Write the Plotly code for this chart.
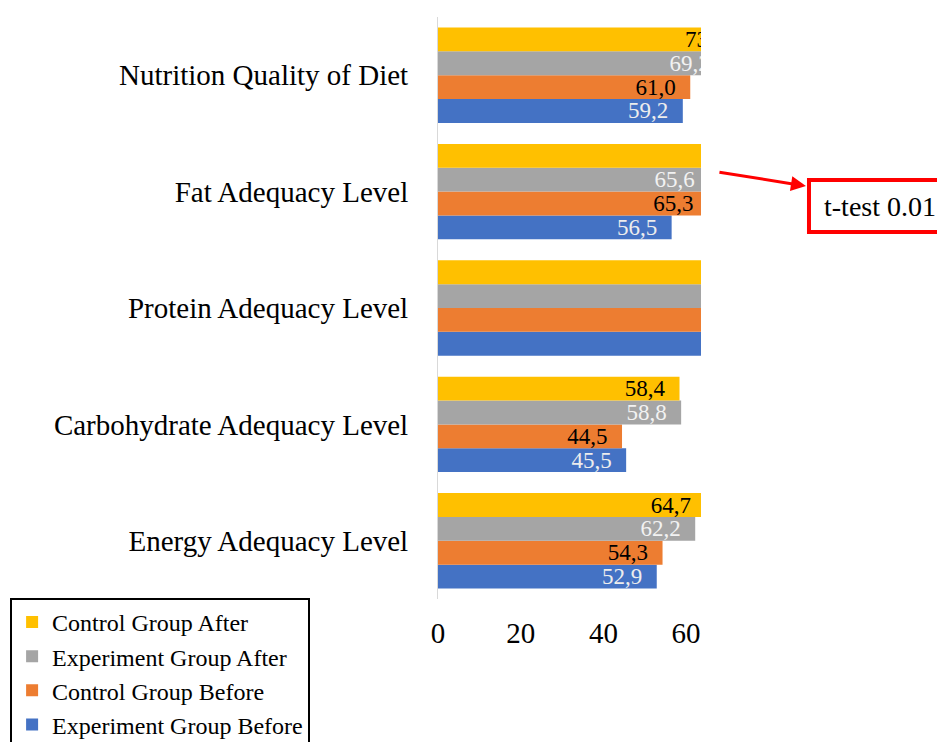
import plotly.graph_objects as go

categories = ["Energy Adequacy Level", "Carbohydrate Adequacy Level", "Protein Adequacy Level",
              "Fat Adequacy Level", "Nutrition Quality of Diet"]
exp_before = [52.9, 45.5, 78.0, 56.5, 59.2]
ctrl_before = [54.3, 44.5, 79.0, 65.3, 61.0]
exp_after = [62.2, 58.8, 80.0, 65.6, 69.2]
ctrl_after = [64.7, 58.4, 81.0, 78.0, 73.0]

series = [
    ("Experiment Group Before", exp_before, "#4472C4", "#EDEDED"),
    ("Control Group Before", ctrl_before, "#ED7D31", "#000000"),
    ("Experiment Group After", exp_after, "#A5A5A5", "#F2F2F2"),
    ("Control Group After", ctrl_after, "#FFC000", "#000000"),
]

def fmt(v):
    return f"{v:.1f}".replace(".", ",") + "\u00a0\u00a0"

fig = go.Figure()
for name, vals, color, tcolor in series:
    fig.add_trace(go.Bar(
        y=categories, x=vals, orientation="h", name=name, legendgroup=name,
        marker=dict(color=color, line=dict(width=0)),
        text=[fmt(v) for v in vals], textposition="inside", insidetextanchor="end",
        textangle=0, constraintext="none",
        textfont=dict(family="Liberation Serif", size=23, color=tcolor),
        cliponaxis=True,
    ))

fig.update_layout(
    width=945, height=742,
    margin=dict(l=430, r=252, t=9, b=151, autoexpand=False),
    paper_bgcolor="white", plot_bgcolor="white",
    barmode="group", bargap=0.18, bargroupgap=0,
    font=dict(family="Liberation Serif", size=29, color="#000000"),
    showlegend=True,
    legend=dict(
        x=-1.627, y=0.002, xanchor="left", yanchor="top",
        traceorder="reversed", bordercolor="#000000", borderwidth=2,
        tracegroupgap=5,
        bgcolor="white", font=dict(family="Liberation Serif", size=24, color="#000000"),
        itemwidth=30,
    ),
    xaxis=dict(range=[0, 63.6], tickvals=[0, 20, 40, 60], showgrid=False, zeroline=False,
               showline=False, ticks="", tickfont=dict(size=29), ticklabelstandoff=14),
    yaxis=dict(showline=True, linecolor="#D9D9D9", linewidth=1, ticks="", showgrid=False,
               tickfont=dict(size=29), ticklabelstandoff=23),
    shapes=[
        dict(type="rect", xref="paper", yref="paper", x0=1.4106, x1=2.2, y0=0.6306, y1=0.7199,
             line=dict(color="#FF0000", width=4), fillcolor="white", layer="above"),
    ],
    annotations=[
        dict(xref="paper", yref="paper", x=1.399, y=0.7096, ax=-88, ay=-14,
             showarrow=True, arrowhead=2, arrowsize=1, arrowwidth=3, arrowcolor="#FF0000", text=""),
        dict(xref="paper", yref="paper", x=1.460, y=0.675, xanchor="left", yanchor="middle",
             showarrow=False,
             text="t-test 0.01", font=dict(family="Liberation Serif", size=28, color="#000000")),
    ],
)

fig.write_html("out.html")
